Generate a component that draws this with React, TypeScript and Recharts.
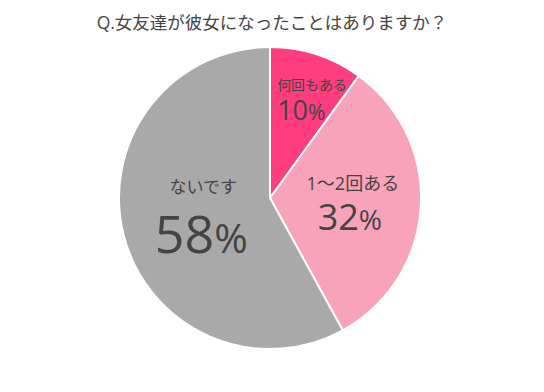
import React from 'react';
import { PieChart, Pie, Cell } from 'recharts';

const TITLE = 'Q.女友達が彼女になったことはありますか？';
const LABELS = ['何回もある', '1〜2回ある', 'ないです'];
const VALUES = [10, 32, 58];
const COLORS = ['#ff3d7f', '#f9a3bb', '#a9a9a9'];

// label placement per slice (radius factor, font sizes, baseline offsets)
const LABEL_STYLE = [
  { k: 0.71, name: 14, pct: 27, anchor: 'start', dx: -26, nameDx: 0, nameDy: -6, pctDy: 24 },
  { k: 0.53, name: 18, pct: 36, anchor: 'middle', dx: 0, nameDx: 3, nameDy: -13, pctDy: 27 },
  { k: 0.47, name: 17, pct: 52, anchor: 'middle', dx: 0, nameDx: 2, nameDy: -23, pctDy: 37 },
];

const FONT = "'Open Sans', 'Noto Sans CJK JP', sans-serif";

const data = LABELS.map((name, i) => ({ name, value: VALUES[i] }));

const RAD = Math.PI / 180;

function renderLabel(props: any) {
  const { cx, cy, midAngle, outerRadius, index, name, value } = props;
  const s = LABEL_STYLE[index];
  const x = cx + outerRadius * s.k * Math.cos(-midAngle * RAD) + s.dx;
  const y = cy + outerRadius * s.k * Math.sin(-midAngle * RAD);
  return (
    <g>
      <text x={x + s.nameDx} y={y + s.nameDy} textAnchor={s.anchor} fill="#444" fontSize={s.name} fontFamily={FONT}>
        {name}
      </text>
      <text x={x} y={y + s.pctDy} textAnchor={s.anchor} fill="#444" fontSize={s.pct} fontFamily={FONT}>
        {value}
        <tspan fontSize={s.pct * 0.78}>%</tspan>
      </text>
    </g>
  );
}

export default function App() {
  return (
    <div style={{ position: 'absolute', left: 0, top: 0, width: 544, height: 392, background: '#fff' }}>
      <div
        style={{
          position: 'absolute',
          top: 11,
          left: 0,
          width: 544,
          textAlign: 'center',
          fontFamily: FONT,
          fontSize: 17.5,
          color: '#444',
          lineHeight: '22px',
        }}
      >
        {TITLE}
      </div>
      <PieChart width={544} height={392} margin={{ top: 0, right: 0, bottom: 0, left: 0 }}>
        <Pie
          data={data}
          dataKey="value"
          nameKey="name"
          cx={270}
          cy={198}
          outerRadius={151}
          startAngle={90}
          endAngle={-270}
          stroke="#fff"
          strokeWidth={2}
          labelLine={false}
          label={renderLabel}
          isAnimationActive={false}
        >
          {data.map((entry, index) => (
            <Cell key={`cell-${index}`} fill={COLORS[index]} />
          ))}
        </Pie>
      </PieChart>
    </div>
  );
}
